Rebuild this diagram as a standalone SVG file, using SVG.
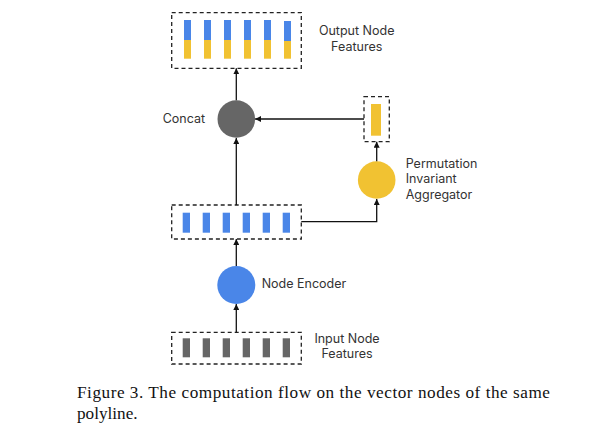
<svg xmlns="http://www.w3.org/2000/svg" width="609" height="441" viewBox="0 0 609 441">
<style>
.box{fill:none;stroke:#222;stroke-width:1.3;stroke-dasharray:4,3}
.lbl{font-family:Inter,"Open Sans",sans-serif;font-size:12.5px;fill:#333}
.cap{font-family:"Liberation Serif","Times New Roman",serif;font-size:17.2px;fill:#111}
.con{fill:none;stroke:#111;stroke-width:1.3}
.blue{fill:#4A86E8}.yel{fill:#F1C232}.gry{fill:#666}
</style>
<defs>
<marker id="ah" viewBox="0 0 8 8" refX="8" refY="4" markerWidth="6" markerHeight="6" markerUnits="userSpaceOnUse" orient="auto">
<path d="M0,0 L8,4 L0,8 z" fill="#111"/>
</marker>
</defs>
<rect width="609" height="441" fill="#fff"/>
<g id="output">
<rect class="box" x="171.7" y="12.7" width="129.6" height="55.6"/>
<g class="blue"><rect x="184" y="20" width="7" height="20"/><rect x="204" y="20" width="7" height="20"/><rect x="224" y="20" width="7" height="20"/><rect x="244" y="20" width="7" height="20"/><rect x="264" y="20" width="7" height="20"/><rect x="284" y="21" width="7" height="20"/></g>
<g class="yel"><rect x="184" y="40" width="7" height="18.7"/><rect x="204" y="40" width="7" height="18.7"/><rect x="224" y="40" width="7" height="18.7"/><rect x="244" y="40" width="7" height="18.7"/><rect x="264" y="40" width="7" height="18.7"/><rect x="284" y="41" width="7" height="17.7"/></g>
<text class="lbl" x="356.7" y="35" text-anchor="middle">Output Node</text>
<text class="lbl" x="356.7" y="50.7" text-anchor="middle">Features</text>
</g>
<g id="concat">
<circle class="gry" cx="236.3" cy="119" r="18.8"/>
<text class="lbl" x="162.7" y="123.3">Concat</text>
</g>
<g id="pooled">
<rect class="box" x="364" y="96.7" width="25.3" height="45"/>
<rect class="yel" x="371" y="104" width="10" height="31.7"/>
</g>
<g id="aggregator">
<circle class="yel" cx="376.7" cy="180" r="18.8"/>
<text class="lbl" x="405.7" y="167.7">Permutation</text>
<text class="lbl" x="405.7" y="183.3">Invariant</text>
<text class="lbl" x="405.7" y="198.9">Aggregator</text>
</g>
<g id="encoded">
<rect class="box" x="171.7" y="205" width="129.6" height="34"/>
<g class="blue"><rect x="182.7" y="212.7" width="7.3" height="20"/><rect x="202.7" y="212.7" width="7.3" height="20"/><rect x="222.7" y="212.7" width="7.3" height="20"/><rect x="242.7" y="212.7" width="7.3" height="20"/><rect x="262.7" y="212.7" width="7.3" height="20"/><rect x="282.7" y="212.7" width="7.3" height="20"/></g>
</g>
<g id="encoder">
<circle class="blue" cx="236.3" cy="285" r="19"/>
<text class="lbl" x="261.7" y="287.5">Node Encoder</text>
</g>
<g id="input">
<rect class="box" x="171.7" y="332.3" width="129.6" height="31.7"/>
<g class="gry"><rect x="182.7" y="338.3" width="7.3" height="19"/><rect x="202.7" y="338.3" width="7.3" height="19"/><rect x="222.7" y="338.3" width="7.3" height="19"/><rect x="242.7" y="338.3" width="7.3" height="19"/><rect x="262.7" y="338.3" width="7.3" height="19"/><rect x="282.7" y="338.3" width="7.3" height="19"/></g>
<text class="lbl" x="347" y="342.7" text-anchor="middle">Input Node</text>
<text class="lbl" x="347" y="358.3" text-anchor="middle">Features</text>
</g>
<g id="connectors">
<line class="con" x1="236.3" y1="332.3" x2="236.3" y2="304" marker-end="url(#ah)"/>
<line class="con" x1="236.3" y1="266" x2="236.3" y2="239" marker-end="url(#ah)"/>
<line class="con" x1="236.3" y1="205" x2="236.3" y2="138" marker-end="url(#ah)"/>
<line class="con" x1="236.3" y1="100.2" x2="236.3" y2="68.3" marker-end="url(#ah)"/>
<polyline class="con" points="301.3,221.7 376.7,221.7 376.7,199" marker-end="url(#ah)"/>
<line class="con" x1="376.7" y1="161.2" x2="376.7" y2="141.7" marker-end="url(#ah)"/>
<line class="con" x1="364" y1="119" x2="255.1" y2="119" marker-end="url(#ah)"/>
</g>
<g id="caption">
<text class="cap" x="77" y="398.3" textLength="473" lengthAdjust="spacing">Figure 3. The computation flow on the vector nodes of the same</text>
<text class="cap" x="77" y="419">polyline.</text>
</g>
</svg>
